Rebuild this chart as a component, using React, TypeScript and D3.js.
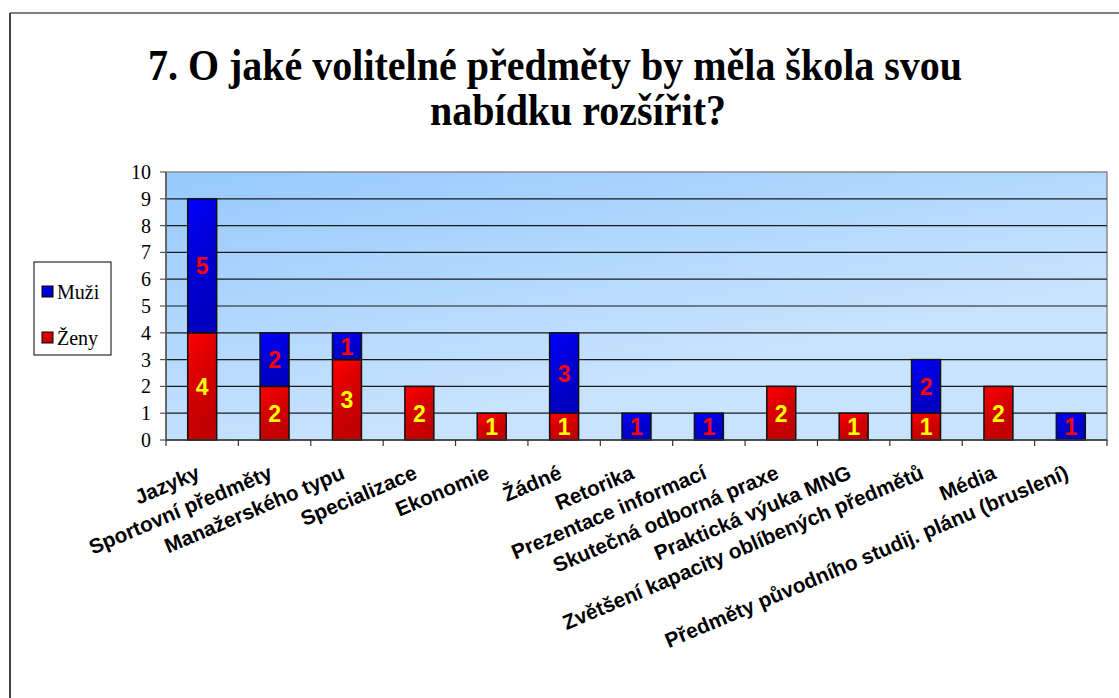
import React from "react";
import * as d3 from "d3";

const categories = [
  "Jazyky",
  "Sportovní předměty",
  "Manažerského typu",
  "Specializace",
  "Ekonomie",
  "Žádné",
  "Retorika",
  "Prezentace informací",
  "Skutečná odborná praxe",
  "Praktická výuka MNG",
  "Zvětšení kapacity oblíbených předmětů",
  "Média",
  "Předměty původního studij. plánu (bruslení)",
];
const zeny = [4, 2, 3, 2, 1, 1, 0, 0, 2, 1, 1, 2, 0];
const muzi = [5, 2, 1, 0, 0, 3, 1, 1, 0, 0, 2, 0, 1];
const yTicks = [0, 1, 2, 3, 4, 5, 6, 7, 8, 9, 10];
const titleLines = ["7. O jaké volitelné předměty by měla škola svou", "nabídku rozšířit?"];
const seriesNames = ["Muži", "Ženy"];

const W = 1119;
const H = 698;
const plot = { left: 166, right: 1107, top: 172, bottom: 440 };
const SERIF = "Liberation Serif";
const SANS = "Liberation Sans";

export default function App() {
  const x = d3
    .scaleBand<string>()
    .domain(categories)
    .range([plot.left, plot.right])
    .paddingInner(0.6)
    .paddingOuter(0.3);
  const y = d3.scaleLinear().domain([0, 10]).range([plot.bottom, plot.top]);
  const step = x.step();
  const bw = x.bandwidth();

  const segs: { cat: string; y0: number; y1: number; v: number; s: "z" | "m" }[] = [];
  categories.forEach((c, i) => {
    if (zeny[i] > 0) segs.push({ cat: c, y0: 0, y1: zeny[i], v: zeny[i], s: "z" });
    if (muzi[i] > 0) segs.push({ cat: c, y0: zeny[i], y1: zeny[i] + muzi[i], v: muzi[i], s: "m" });
  });

  const boundaries = d3.range(categories.length + 1).map((i) => plot.left + i * step);
  const titlePos = [
    { cx: 555, by: 80 },
    { cx: 578, by: 125 },
  ];

  return (
    <div style={{ position: "absolute", left: 0, top: 0 }}>
      <svg width={W} height={H} style={{ display: "block", background: "#fff" }}>
        <defs>
          <linearGradient id="bg" x1="0" y1="0" x2="0.7" y2="1">
            <stop offset="0" stopColor="#96c9fd" />
            <stop offset="0.75" stopColor="#c7e3fe" />
            <stop offset="1" stopColor="#c7e3fe" />
          </linearGradient>
          <linearGradient id="gr" x1="0" y1="0" x2="0.4" y2="1">
            <stop offset="0" stopColor="#ff0000" />
            <stop offset="0.6" stopColor="#d00000" />
            <stop offset="1" stopColor="#c00000" />
          </linearGradient>
          <linearGradient id="gb" x1="0" y1="0" x2="0.4" y2="1">
            <stop offset="0" stopColor="#0000ff" />
            <stop offset="0.6" stopColor="#0000d0" />
            <stop offset="1" stopColor="#0000c0" />
          </linearGradient>
        </defs>

        {/* outer frame */}
        <line x1={10} y1={13} x2={W + 2} y2={13} stroke="#000" strokeWidth={1.2} />
        <line x1={10} y1={13} x2={10} y2={H + 2} stroke="#444" strokeWidth={2} />

        {/* title */}
        {titleLines.map((t, i) => (
          <text
            key={i}
            transform={`translate(${titlePos[i].cx},${titlePos[i].by}) scale(1,1.1)`}
            textAnchor="middle"
            fontFamily={SERIF}
            fontWeight="bold"
            fontSize={40}
            fill="#000"
          >
            {t}
          </text>
        ))}

        {/* plot area */}
        <rect
          x={plot.left}
          y={plot.top}
          width={plot.right - plot.left}
          height={plot.bottom - plot.top}
          fill="url(#bg)"
          stroke="#8a8a8a"
          strokeWidth={1.5}
        />
        {yTicks
          .filter((t) => t > 0 && t < 10)
          .map((t) => (
            <line key={t} x1={plot.left} x2={plot.right} y1={y(t)} y2={y(t)} stroke="#1a1a1a" strokeWidth={1.2} />
          ))}

        {/* y axis */}
        <line x1={plot.left} x2={plot.left} y1={plot.top} y2={plot.bottom} stroke="#555" strokeWidth={1.5} />
        {yTicks.map((t) => (
          <g key={t}>
            <line x1={plot.left - 6} x2={plot.left} y1={y(t)} y2={y(t)} stroke="#555" strokeWidth={1.2} />
            <text
              x={plot.left - 15}
              y={y(t) + 7}
              textAnchor="end"
              fontFamily={SERIF}
              fontSize={20}
              fill="#000"
            >
              {t}
            </text>
          </g>
        ))}

        {/* bars */}
        {segs.map((s, i) => (
          <rect
            key={i}
            x={x(s.cat)!}
            y={y(s.y1)}
            width={bw}
            height={y(s.y0) - y(s.y1)}
            fill={s.s === "z" ? "url(#gr)" : "url(#gb)"}
            stroke="#111"
            strokeWidth={1.5}
          />
        ))}
        {segs.map((s, i) => (
          <text
            key={"l" + i}
            x={x(s.cat)! + bw / 2}
            y={(y(s.y0) + y(s.y1)) / 2 + 8.5}
            textAnchor="middle"
            fontFamily={SANS}
            fontWeight="bold"
            fontSize={23}
            fill={s.s === "z" ? "#ffff00" : "#ff0000"}
          >
            {s.v}
          </text>
        ))}

        {/* x axis */}
        <line x1={plot.left} x2={plot.right} y1={plot.bottom} y2={plot.bottom} stroke="#333" strokeWidth={1.5} />
        {boundaries.map((b, i) => (
          <line key={i} x1={b} x2={b} y1={plot.bottom} y2={plot.bottom + 6} stroke="#333" strokeWidth={1.2} />
        ))}
        {categories.map((c) => {
          const cx = x(c)! + bw / 2;
          return (
            <text
              key={c}
              transform={`translate(${cx - 1},${478}) rotate(-23)`}
              textAnchor="end"
              fontFamily={SANS}
              fontWeight="bold"
              fontSize={20.8}
              fill="#000"
            >
              {c}
            </text>
          );
        })}

        {/* legend */}
        <rect x={34} y={262} width={77} height={93} fill="#fff" stroke="#000" strokeWidth={1} />
        {seriesNames.map((n, i) => (
          <g key={n}>
            <rect
              x={42}
              y={286 + i * 46}
              width={11}
              height={11}
              fill={i === 0 ? "url(#gb)" : "url(#gr)"}
              stroke="#000"
              strokeWidth={1}
            />
            <text x={57} y={299 + i * 46} fontFamily={SERIF} fontSize={20} fill="#000">
              {n}
            </text>
          </g>
        ))}
      </svg>
    </div>
  );
}
